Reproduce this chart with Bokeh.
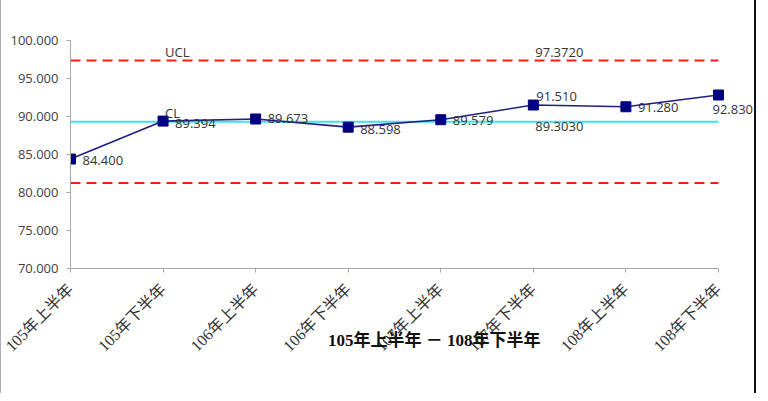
import math
from bokeh.plotting import figure
from bokeh.models import (Range1d, FixedTicker, PrintfTickFormatter, ColumnDataSource,
                          LabelSet, Label, LinearAxis)
from bokeh.core.properties import value
from bokeh.embed import file_html
from bokeh.resources import INLINE

# ---- data ----
categories = ["105年上半年", "105年下半年", "106年上半年", "106年下半年",
              "107年上半年", "107年下半年", "108年上半年", "108年下半年"]
values = [84.400, 89.394, 89.673, 88.598, 89.579, 91.510, 91.280, 92.830]
cl_value = 89.3030
ucl_value = 97.3720
lcl_value = 81.2340
y_ticks = [70, 75, 80, 85, 90, 95, 100]
x_title = "105年上半年 － 108年下半年"

# label placement (style, not data)
label_dx = [12, 12, 12, 12, 12, 3, 12, -6]
label_dy = [-1, -2, 0, -2, -1, 9, -1, -15]

xs = list(range(len(categories)))
n = len(categories)

p = figure(width=756, height=393, output_backend="svg", toolbar_location=None,
           x_range=Range1d(0, 7.40), y_range=Range1d(70, 100),
           min_border_left=69, min_border_right=2, min_border_top=40,
           min_border_bottom=125,
           styles={"border-right": "2px solid #111", "border-left": "1px solid #b0b0b0"})
p.outline_line_color = None
p.xgrid.visible = False
p.ygrid.visible = False
p.background_fill_color = "white"
p.border_fill_color = "white"

num_font = "Open Sans"
cjk_font = "Liberation Serif, Noto Sans CJK TC"

# axes
p.yaxis.ticker = FixedTicker(ticks=y_ticks)
p.yaxis.formatter = PrintfTickFormatter(format="%.3f")
p.yaxis.axis_line_color = "#a6a6a6"
p.yaxis.major_tick_line_color = "#a6a6a6"
p.yaxis.major_tick_out = 4
p.yaxis.major_tick_in = 0
p.yaxis.minor_tick_line_color = None
p.yaxis.major_label_text_font = num_font
p.yaxis.major_label_text_font_size = "13px"
p.yaxis.major_label_text_color = "#404040"
p.yaxis.major_label_standoff = 8

p.xaxis.bounds = (0, n - 1)
p.xaxis.ticker = FixedTicker(ticks=xs)
p.xaxis.major_label_overrides = {i: c for i, c in zip(xs, categories)}
p.xaxis.major_label_orientation = math.pi / 4
p.xaxis.axis_line_color = "#a6a6a6"
p.xaxis.major_tick_line_color = "#a6a6a6"
p.xaxis.major_tick_out = 4
p.xaxis.major_tick_in = 0
p.xaxis.minor_tick_line_color = None
p.xaxis.major_label_text_font = cjk_font
p.xaxis.major_label_text_font_size = "16px"
p.xaxis.major_label_text_color = "#333333"
p.xaxis.major_label_standoff = 14

# axis title carried by a second, bare axis below the first
# (leading ideographic spaces shift the centred title to the right, as in the reference)
title_axis = LinearAxis(ticker=FixedTicker(ticks=[]),
                        axis_line_color=None, major_tick_line_color=None,
                        minor_tick_line_color=None, major_label_text_font_size="0px",
                        axis_label="\u3000\u3000\u2002" + x_title, axis_label_standoff=-33,
                        axis_label_text_font=cjk_font, axis_label_text_font_size="17px",
                        axis_label_text_font_style="bold", axis_label_text_color="#111111")
p.add_layout(title_axis, "below")

# control lines
p.line(xs, [ucl_value] * n, line_color="#ff1a1a", line_width=2, line_dash="10 6")
p.line(xs, [lcl_value] * n, line_color="#ff1a1a", line_width=2, line_dash="10 6")
p.line(xs, [cl_value] * n, line_color="#3de3f0", line_width=2)

# data series
src = ColumnDataSource(dict(x=xs, y=values, lab=["%.3f" % v for v in values],
                            dx=label_dx, dy=label_dy))
p.line("x", "y", source=src, line_color="#1f1f80", line_width=1.6)
p.scatter("x", "y", source=src, marker="square", size=10, fill_color="#000080",
          line_color="#000080")
p.add_layout(LabelSet(x="x", y="y", text="lab", source=src, x_offset="dx", y_offset="dy",
                      text_font=value(num_font), text_font_size=value("13px"),
                      text_color="#333333",
                      text_baseline="middle", text_align="left"))

# control line labels
for xi, yv, txt, dy in [(1, ucl_value, "UCL", 8), (5, ucl_value, "%.4f" % ucl_value, 8),
                        (1, cl_value, "CL", 9), (5, cl_value, "%.4f" % cl_value, -5)]:
    p.add_layout(Label(x=xi, y=yv, text=txt, x_offset=2, y_offset=dy,
                       text_font=num_font, text_font_size="13px", text_color="#333333",
                       text_baseline="middle", text_align="left"))

open("out.html", "w").write(file_html(p, INLINE))
